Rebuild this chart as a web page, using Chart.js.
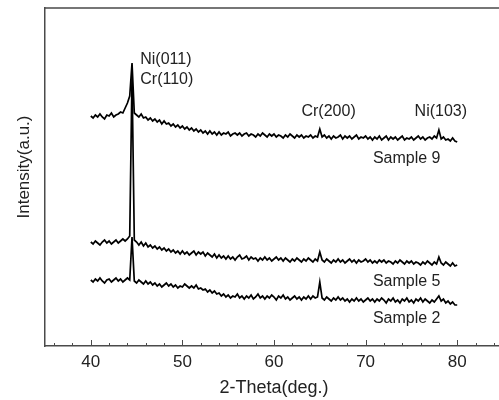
<!DOCTYPE html>
<html>
<head>
<meta charset="utf-8">
<script src="https://cdn.jsdelivr.net/npm/chart.js@4"></script>
<style>
  html, body { margin: 0; padding: 0; background: #fff; overflow: hidden; }
  #wrap { width: 503px; height: 400px; }
</style>
</head>
<body>
<div id="wrap"><canvas id="xrdChart" width="503" height="400"></canvas></div>
<script>
// 2-theta sampling grid: 40 -> 80 deg, every 0.25 deg
const angleStart = 40;
const angleStep = 0.25;
const angles = [];
for (let i = 0; i <= 160; i++) angles.push(angleStart + i * angleStep);

// intensities (a.u., already offset per sample)
const sample9 = [
  230, 228, 231, 229, 232, 229, 227, 231, 230, 233, 229, 231, 232, 234, 233, 238,
  243, 250, 283, 233, 231, 229, 232, 228, 229, 226, 228, 225, 227, 224, 226, 222,
  225, 222, 223, 220, 222, 219, 221, 218, 220, 217, 219, 216, 218, 215, 217, 214,
  216, 213, 215, 212, 215, 212, 214, 211, 214, 211, 213, 212, 214, 210, 212, 213,
  211, 213, 210, 212, 213, 210, 212, 211, 209, 212, 210, 213, 211, 209, 212, 210,
  212, 209, 211, 210, 208, 211, 209, 212, 210, 208, 211, 209, 211, 208, 210, 209,
  211, 208, 210, 209, 217, 209, 211, 208, 210, 207, 210, 208, 209, 211, 207, 210,
  208, 210, 207, 209, 211, 207, 209, 208, 210, 207, 209, 206, 209, 207, 210, 206,
  208, 210, 206, 209, 207, 209, 206, 208, 210, 206, 208, 207, 209, 206, 208, 210,
  207, 209, 206, 208, 209, 207, 210, 208, 216, 207, 209, 206, 207, 205, 208, 205,
  204
];
const sample5 = [
  104, 102, 105, 103, 101, 104, 106, 103, 105, 102, 104, 106, 103, 105, 107, 105,
  107, 110, 270, 106, 104, 101, 104, 100, 103, 99, 101, 98, 100, 97, 99, 96,
  98, 95, 97, 94, 96, 93, 95, 92, 95, 92, 94, 91, 93, 95, 91, 94,
  92, 94, 90, 93, 91, 89, 92, 88, 91, 88, 90, 87, 90, 87, 89, 86,
  89, 91, 87, 88, 90, 86, 89, 87, 88, 85, 88, 86, 89, 86, 88, 85,
  87, 89, 86, 88, 85, 88, 86, 84, 87, 85, 88, 86, 84, 87, 85, 88,
  86, 84, 87, 85, 94, 86, 84, 87, 85, 83, 86, 84, 87, 84, 86, 83,
  85, 87, 84, 86, 83, 86, 84, 85, 87, 84, 86, 83, 85, 83, 86, 84,
  86, 83, 85, 84, 82, 85, 83, 86, 84, 82, 85, 83, 85, 82, 84, 83,
  81, 84, 82, 85, 83, 81, 84, 82, 89, 83, 81, 84, 82, 80, 83, 80,
  81
];
const sample2 = [
  66, 64, 67, 65, 68, 65, 63, 66, 67, 64, 66, 68, 65, 67, 64, 66,
  68, 66, 109, 65, 63, 66, 64, 62, 65, 62, 64, 61, 63, 60, 62, 59,
  61, 63, 60, 62, 59, 61, 58, 60, 59, 62, 60, 58, 60, 58, 61, 57,
  58, 56, 57, 54, 56, 53, 55, 52, 53, 50, 52, 49, 51, 48, 50, 49,
  52, 48, 50, 47, 50, 48, 51, 47, 49, 52, 48, 50, 47, 50, 48, 51,
  49, 46, 50, 48, 51, 47, 49, 46, 48, 50, 47, 49, 46, 49, 47, 50,
  47, 50, 48, 49, 64, 48, 46, 49, 47, 45, 48, 46, 49, 46, 48, 45,
  47, 44, 47, 45, 48, 45, 47, 44, 46, 48, 45, 47, 44, 47, 45, 48,
  46, 43, 47, 45, 48, 44, 46, 43, 47, 45, 48, 44, 46, 43, 47, 45,
  48, 44, 47, 45, 43, 46, 44, 47, 50, 45, 47, 43, 45, 42, 44, 41,
  41
];

const seriesNames = ['Sample 9', 'Sample 5', 'Sample 2'];
const seriesValues = [sample9, sample5, sample2];

// axis ticks
const majorTicks = [40, 50, 60, 70, 80];
const minorTicks = [36, 38, 42, 44, 46, 48, 52, 54, 56, 58, 62, 64, 66, 68, 72, 74, 76, 78, 82, 84];

// text labels inside the plot (left edge x in deg, baseline y in a.u.)
const noteTexts = ['Ni(011)', 'Cr(110)', 'Cr(200)', 'Ni(103)', 'Sample 9', 'Sample 5', 'Sample 2'];
const noteX = [45.4, 45.4, 63.0, 75.35, 70.8, 70.8, 70.8];
const noteY = [282, 262, 230, 230, 183, 60, 23];

const axisColor = '#4a4a4a';
const textColor = '#222';
const fontFamily = '"Liberation Sans", Arial, sans-serif';

const framePlugin = {
    id: 'frame',
    afterDraw(chart) {
        const { ctx, chartArea, scales } = chart;
        ctx.save();
        // top / right frame
        ctx.strokeStyle = axisColor;
        ctx.lineWidth = 1.5;
        ctx.beginPath();
        ctx.moveTo(chartArea.left, chartArea.top);
        ctx.lineTo(chartArea.right, chartArea.top);
        ctx.lineTo(chartArea.right, chartArea.bottom);
        ctx.stroke();

        // inward ticks on the x axis
        ctx.lineWidth = 1;
        const b = chartArea.bottom;
        ctx.beginPath();
        majorTicks.forEach(v => {
            const x = Math.round(scales.x.getPixelForValue(v)) + 0.5;
            ctx.moveTo(x, b);
            ctx.lineTo(x, b - 6);
        });
        minorTicks.forEach(v => {
            const x = Math.round(scales.x.getPixelForValue(v)) + 0.5;
            ctx.moveTo(x, b);
            ctx.lineTo(x, b - 3);
        });
        ctx.stroke();

        // peak and sample labels
        ctx.fillStyle = textColor;
        ctx.font = '16px ' + fontFamily;
        ctx.textAlign = 'left';
        ctx.textBaseline = 'alphabetic';
        noteTexts.forEach((t, i) => {
            ctx.fillText(t, scales.x.getPixelForValue(noteX[i]), scales.y.getPixelForValue(noteY[i]));
        });

        // y axis title
        ctx.translate(24, 167);
        ctx.rotate(-Math.PI / 2);
        ctx.textAlign = 'center';
        ctx.textBaseline = 'middle';
        ctx.font = '17px ' + fontFamily;
        ctx.fillText('Intensity(a.u.)', 0, 0);
        ctx.restore();
    }
};

const ctx = document.getElementById('xrdChart');
new Chart(ctx, {
    type: 'line',
    data: {
        datasets: seriesNames.map((name, s) => ({
            label: name,
            data: angles.map((a, i) => ({ x: a, y: seriesValues[s][i] })),
            borderColor: '#000',
            borderWidth: 1.7,
            pointRadius: 0,
            tension: 0,
            fill: false
        }))
    },
    options: {
        responsive: false,
        animation: false,
        layout: { padding: { top: 8, left: 0, right: 0, bottom: 0 } },
        plugins: {
            legend: { display: false },
            tooltip: { enabled: false }
        },
        scales: {
            x: {
                type: 'linear',
                min: 35,
                max: 85,
                afterBuildTicks: scale => {
                    scale.ticks = majorTicks.map(v => ({ value: v }));
                },
                afterFit: scale => { scale.height = 54; },
                grid: { display: false, drawTicks: false },
                border: { display: true, color: axisColor, width: 1.5 },
                ticks: {
                    color: textColor,
                    font: { family: fontFamily, size: 17 },
                    padding: 6,
                    maxRotation: 0
                },
                title: {
                    display: true,
                    text: '2-Theta(deg.)',
                    color: textColor,
                    font: { family: fontFamily, size: 18 },
                    padding: { top: 0, bottom: 1 }
                }
            },
            y: {
                type: 'linear',
                min: 0,
                max: 338,
                afterFit: scale => { scale.width = 45; },
                grid: { display: false, drawTicks: false },
                border: { display: true, color: axisColor, width: 1.5 },
                ticks: { display: false }
            }
        }
    },
    plugins: [framePlugin]
});
</script>
</body>
</html>
